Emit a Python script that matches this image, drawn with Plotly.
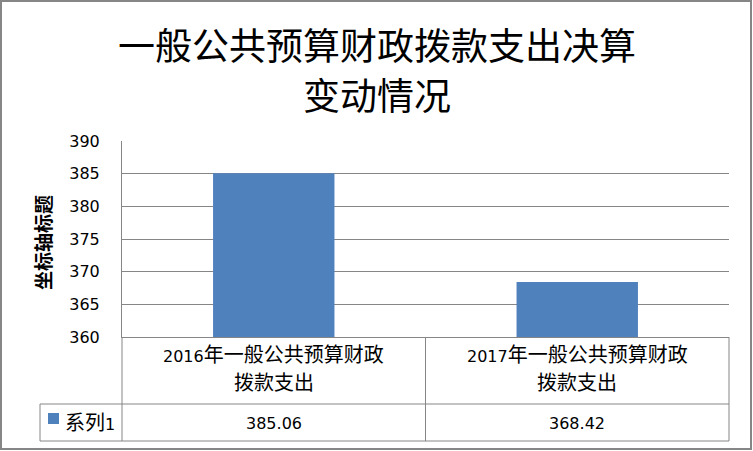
import re
import plotly.graph_objects as go

# ---- data ----
categories = ["2016年一般公共预算财政拨款支出", "2017年一般公共预算财政拨款支出"]
values = [385.06, 368.42]
series_name = "系列1"
title_lines = ["一般公共预算财政拨款支出决算", "变动情况"]
y_title = "坐标轴标题"
y_range = [360, 390]
y_step = 5

# ---- style / geometry ----
W, H = 753, 451
L, R, T, B = 122, 24, 141, 114
PW, PH = W - L - R, H - T - B
GRID = "#868686"
BAR = "#4F81BD"
CJK = "Noto Sans CJK SC"
LAT = "DejaVu Sans"


def px2x(px):
    return (px - L) / PW


def px2y(py):
    return (H - B - py) / PH


def mixed(text, cjk_size=20):
    # wrap CJK runs in larger spans (digits stay in the base size)
    return re.sub(r"([^\x00-\x7f]+)", lambda m: f"<span style='font-size:{cjk_size}px'>{m.group(1)}</span>", text)


def wrap(text, n=13):
    return [text[:n], text[n:]] if len(text) > n else [text]


fig = go.Figure()
fig.add_trace(go.Bar(
    x=categories, y=values, name=series_name,
    marker=dict(color=BAR, line=dict(width=0)),
    showlegend=False, hoverinfo="skip",
))

fig.update_layout(
    width=W, height=H,
    margin=dict(l=L, r=R, t=T, b=B, pad=0),
    paper_bgcolor="white", plot_bgcolor="white",
    bargap=0.6,
    font=dict(family=f"{LAT}, {CJK}", color="black", size=16),
    xaxis=dict(
        type="category", categoryorder="array", categoryarray=categories,
        range=[-0.5, len(categories) - 0.5],
        showticklabels=False, showgrid=False, ticks="",
        showline=True, linecolor=GRID, linewidth=1, zeroline=False,
    ),
    yaxis=dict(
        range=y_range, tick0=y_range[0], dtick=y_step,
        showgrid=True, gridcolor=GRID, gridwidth=1,
        showline=True, linecolor=GRID, linewidth=1, zeroline=False,
        ticks="", ticklabelstandoff=18,
        tickfont=dict(family=LAT, size=16, color="black"),
    ),
)

shapes = []
line = dict(color=GRID, width=1)
# table horizontal lines
for py in (404, 441):
    shapes.append(dict(type="line", xref="paper", yref="paper",
                       x0=px2x(40), x1=1, y0=px2y(py), y1=px2y(py), line=line))
# table verticals
shapes.append(dict(type="line", xref="paper", yref="paper",
                   x0=px2x(40), x1=px2x(40), y0=px2y(404), y1=px2y(441), line=line))
shapes.append(dict(type="line", xref="paper", yref="paper",
                   x0=0, x1=0, y0=0, y1=px2y(441), line=line))
shapes.append(dict(type="line", xref="paper", yref="paper",
                   x0=1, x1=1, y0=0, y1=px2y(441), line=line))
for i in range(len(categories) - 1):
    shapes.append(dict(type="line", xref="x", yref="paper",
                       x0=i + 0.5, x1=i + 0.5, y0=0, y1=px2y(441), line=line))
# legend key
shapes.append(dict(type="rect", xref="paper", yref="paper",
                   x0=px2x(48), x1=px2x(59), y0=px2y(413), y1=px2y(424),
                   fillcolor=BAR, line=dict(width=0)))
# outer chart border
shapes.append(dict(type="rect", xref="paper", yref="paper",
                   x0=px2x(1), x1=px2x(751), y0=px2y(1), y1=px2y(449),
                   line=dict(color=GRID, width=2)))
fig.update_layout(shapes=shapes)

ann = []
# title, one annotation per line
for j, t in enumerate(title_lines):
    ann.append(dict(xref="paper", yref="paper", x=px2x(W / 2), y=px2y(44 + 50 * j),
                    text=t, showarrow=False, xanchor="center", yanchor="middle",
                    font=dict(family=CJK, size=37, color="black")))
for i, cat in enumerate(categories):
    for j, part in enumerate(wrap(cat)):
        ann.append(dict(xref="x", yref="paper", x=i, y=px2y(355 + 28 * j),
                        text=mixed(part), showarrow=False,
                        xanchor="center", yanchor="middle",
                        font=dict(family=f"{LAT}, {CJK}", size=16, color="black")))
    ann.append(dict(xref="x", yref="paper", x=i, y=px2y(423),
                    text=f"{values[i]:.2f}", showarrow=False,
                    xanchor="center", yanchor="middle",
                    font=dict(family=LAT, size=16, color="black")))
ann.append(dict(xref="paper", yref="paper", x=px2x(63), y=px2y(423),
                text=mixed(series_name), showarrow=False,
                xanchor="left", yanchor="middle",
                font=dict(family=f"{LAT}, {CJK}", size=16, color="black")))
ann.append(dict(xref="paper", yref="paper", x=px2x(42), y=px2y(243),
                text=f"<b>{y_title}</b>", showarrow=False, textangle=-90,
                xanchor="center", yanchor="middle",
                font=dict(family=CJK, size=19, color="black")))
fig.update_layout(annotations=ann)

fig.write_html("out.html", config={"displayModeBar": False},
               post_script="document.body.style.margin='0';")
